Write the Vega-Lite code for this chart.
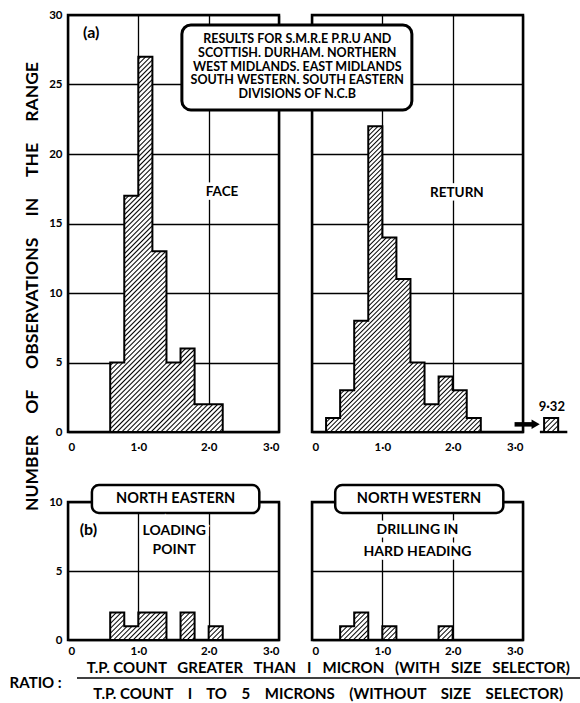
{
"$schema":"https://vega.github.io/schema/vega-lite/v6.json",
"padding":{"left":8,"top":7,"right":2,"bottom":2},
"background":"white",
"config":{
"font":"Lato",
"view":{"stroke":"black","strokeWidth":2.5},
"axis":{"grid":true,"gridColor":"black","gridWidth":1.3,"gridOpacity":1,"domain":false,"ticks":false,"labelFont":"Lato","labelFontWeight":"bold","labelFontSize":11.5,"labelColor":"black"},
"text":{"font":"Lato","fontWeight":"bold","color":"black"}
},
"datasets":{
"face":[{"ratio_from":0.6,"observations":5},{"ratio_from":0.8,"observations":17},{"ratio_from":1.0,"observations":27},{"ratio_from":1.2,"observations":13},{"ratio_from":1.4,"observations":5},{"ratio_from":1.6,"observations":6},{"ratio_from":1.8,"observations":2},{"ratio_from":2.0,"observations":2},{"ratio_from":2.2,"observations":0}],
"return":[{"ratio_from":0.2,"observations":1},{"ratio_from":0.4,"observations":3},{"ratio_from":0.6,"observations":8},{"ratio_from":0.8,"observations":22},{"ratio_from":1.0,"observations":14},{"ratio_from":1.2,"observations":11},{"ratio_from":1.4,"observations":5},{"ratio_from":1.6,"observations":2},{"ratio_from":1.8,"observations":4},{"ratio_from":2.0,"observations":3},{"ratio_from":2.2,"observations":1},{"ratio_from":2.4,"observations":0}],
"ne":[{"ratio_from":0.6,"observations":2},{"ratio_from":0.8,"observations":1},{"ratio_from":1.0,"observations":2},{"ratio_from":1.2,"observations":2},{"ratio_from":1.4,"observations":0},{"ratio_from":1.6,"observations":2},{"ratio_from":1.8,"observations":0},{"ratio_from":2.0,"observations":1},{"ratio_from":2.2,"observations":0}],
"nw":[{"ratio_from":0.4,"observations":1},{"ratio_from":0.6,"observations":2},{"ratio_from":0.8,"observations":0},{"ratio_from":1.0,"observations":1},{"ratio_from":1.2,"observations":0},{"ratio_from":1.4,"observations":0},{"ratio_from":1.6,"observations":0},{"ratio_from":1.8,"observations":1},{"ratio_from":2.0,"observations":0}]
},
"bounds":"flush",
"align":"each",
"columns":2,
"spacing":{"row":70,"column":33},
"concat":[
{"width":211,"height":417,"layer":[
{"data":{"name":"face"},
"mark":{"type":"area","interpolate":"step-after","opacity":1,"stroke":"black","strokeWidth":2,"strokeJoin":"miter",
"fill":{"gradient":"linear","x1":0,"y1":0,"x2":0.3576,"y2":1.1926,"stops":[{"offset":0,"color":"#fff"},{"offset":0.003,"color":"#000"},{"offset":0.006,"color":"#fff"},{"offset":0.01,"color":"#fff"},{"offset":0.013,"color":"#000"},{"offset":0.016,"color":"#fff"},{"offset":0.02,"color":"#fff"},{"offset":0.023,"color":"#000"},{"offset":0.026,"color":"#fff"},{"offset":0.03,"color":"#fff"},{"offset":0.033,"color":"#000"},{"offset":0.036,"color":"#fff"},{"offset":0.04,"color":"#fff"},{"offset":0.043,"color":"#000"},{"offset":0.046,"color":"#fff"},{"offset":0.05,"color":"#fff"},{"offset":0.053,"color":"#000"},{"offset":0.056,"color":"#fff"},{"offset":0.06,"color":"#fff"},{"offset":0.063,"color":"#000"},{"offset":0.066,"color":"#fff"},{"offset":0.07,"color":"#fff"},{"offset":0.073,"color":"#000"},{"offset":0.076,"color":"#fff"},{"offset":0.08,"color":"#fff"},{"offset":0.083,"color":"#000"},{"offset":0.086,"color":"#fff"},{"offset":0.09,"color":"#fff"},{"offset":0.093,"color":"#000"},{"offset":0.096,"color":"#fff"},{"offset":0.1,"color":"#fff"},{"offset":0.103,"color":"#000"},{"offset":0.106,"color":"#fff"},{"offset":0.11,"color":"#fff"},{"offset":0.113,"color":"#000"},{"offset":0.116,"color":"#fff"},{"offset":0.12,"color":"#fff"},{"offset":0.123,"color":"#000"},{"offset":0.126,"color":"#fff"},{"offset":0.13,"color":"#fff"},{"offset":0.133,"color":"#000"},{"offset":0.136,"color":"#fff"},{"offset":0.14,"color":"#fff"},{"offset":0.143,"color":"#000"},{"offset":0.146,"color":"#fff"},{"offset":0.15,"color":"#fff"},{"offset":0.153,"color":"#000"},{"offset":0.156,"color":"#fff"},{"offset":0.16,"color":"#fff"},{"offset":0.163,"color":"#000"},{"offset":0.166,"color":"#fff"},{"offset":0.17,"color":"#fff"},{"offset":0.173,"color":"#000"},{"offset":0.176,"color":"#fff"},{"offset":0.18,"color":"#fff"},{"offset":0.183,"color":"#000"},{"offset":0.186,"color":"#fff"},{"offset":0.19,"color":"#fff"},{"offset":0.193,"color":"#000"},{"offset":0.196,"color":"#fff"},{"offset":0.2,"color":"#fff"},{"offset":0.203,"color":"#000"},{"offset":0.206,"color":"#fff"},{"offset":0.21,"color":"#fff"},{"offset":0.213,"color":"#000"},{"offset":0.216,"color":"#fff"},{"offset":0.22,"color":"#fff"},{"offset":0.223,"color":"#000"},{"offset":0.226,"color":"#fff"},{"offset":0.23,"color":"#fff"},{"offset":0.233,"color":"#000"},{"offset":0.236,"color":"#fff"},{"offset":0.24,"color":"#fff"},{"offset":0.243,"color":"#000"},{"offset":0.246,"color":"#fff"},{"offset":0.25,"color":"#fff"},{"offset":0.253,"color":"#000"},{"offset":0.256,"color":"#fff"},{"offset":0.26,"color":"#fff"},{"offset":0.263,"color":"#000"},{"offset":0.266,"color":"#fff"},{"offset":0.27,"color":"#fff"},{"offset":0.273,"color":"#000"},{"offset":0.276,"color":"#fff"},{"offset":0.28,"color":"#fff"},{"offset":0.283,"color":"#000"},{"offset":0.286,"color":"#fff"},{"offset":0.29,"color":"#fff"},{"offset":0.293,"color":"#000"},{"offset":0.296,"color":"#fff"},{"offset":0.3,"color":"#fff"},{"offset":0.303,"color":"#000"},{"offset":0.306,"color":"#fff"},{"offset":0.31,"color":"#fff"},{"offset":0.313,"color":"#000"},{"offset":0.316,"color":"#fff"},{"offset":0.32,"color":"#fff"},{"offset":0.323,"color":"#000"},{"offset":0.326,"color":"#fff"},{"offset":0.33,"color":"#fff"},{"offset":0.333,"color":"#000"},{"offset":0.336,"color":"#fff"},{"offset":0.34,"color":"#fff"},{"offset":0.343,"color":"#000"},{"offset":0.346,"color":"#fff"},{"offset":0.35,"color":"#fff"},{"offset":0.353,"color":"#000"},{"offset":0.356,"color":"#fff"},{"offset":0.36,"color":"#fff"},{"offset":0.363,"color":"#000"},{"offset":0.366,"color":"#fff"},{"offset":0.37,"color":"#fff"},{"offset":0.373,"color":"#000"},{"offset":0.376,"color":"#fff"},{"offset":0.38,"color":"#fff"},{"offset":0.383,"color":"#000"},{"offset":0.386,"color":"#fff"},{"offset":0.39,"color":"#fff"},{"offset":0.393,"color":"#000"},{"offset":0.396,"color":"#fff"},{"offset":0.4,"color":"#fff"},{"offset":0.403,"color":"#000"},{"offset":0.406,"color":"#fff"},{"offset":0.41,"color":"#fff"},{"offset":0.413,"color":"#000"},{"offset":0.416,"color":"#fff"},{"offset":0.42,"color":"#fff"},{"offset":0.423,"color":"#000"},{"offset":0.426,"color":"#fff"},{"offset":0.43,"color":"#fff"},{"offset":0.433,"color":"#000"},{"offset":0.436,"color":"#fff"},{"offset":0.44,"color":"#fff"},{"offset":0.443,"color":"#000"},{"offset":0.446,"color":"#fff"},{"offset":0.45,"color":"#fff"},{"offset":0.453,"color":"#000"},{"offset":0.456,"color":"#fff"},{"offset":0.46,"color":"#fff"},{"offset":0.463,"color":"#000"},{"offset":0.466,"color":"#fff"},{"offset":0.47,"color":"#fff"},{"offset":0.473,"color":"#000"},{"offset":0.476,"color":"#fff"},{"offset":0.48,"color":"#fff"},{"offset":0.483,"color":"#000"},{"offset":0.486,"color":"#fff"},{"offset":0.49,"color":"#fff"},{"offset":0.493,"color":"#000"},{"offset":0.496,"color":"#fff"},{"offset":0.5,"color":"#fff"},{"offset":0.503,"color":"#000"},{"offset":0.506,"color":"#fff"},{"offset":0.51,"color":"#fff"},{"offset":0.513,"color":"#000"},{"offset":0.516,"color":"#fff"},{"offset":0.52,"color":"#fff"},{"offset":0.523,"color":"#000"},{"offset":0.526,"color":"#fff"},{"offset":0.53,"color":"#fff"},{"offset":0.533,"color":"#000"},{"offset":0.536,"color":"#fff"},{"offset":0.54,"color":"#fff"},{"offset":0.543,"color":"#000"},{"offset":0.546,"color":"#fff"},{"offset":0.55,"color":"#fff"},{"offset":0.553,"color":"#000"},{"offset":0.556,"color":"#fff"},{"offset":0.56,"color":"#fff"},{"offset":0.563,"color":"#000"},{"offset":0.566,"color":"#fff"},{"offset":0.57,"color":"#fff"},{"offset":0.573,"color":"#000"},{"offset":0.576,"color":"#fff"},{"offset":0.58,"color":"#fff"},{"offset":0.583,"color":"#000"},{"offset":0.586,"color":"#fff"},{"offset":0.59,"color":"#fff"},{"offset":0.593,"color":"#000"},{"offset":0.596,"color":"#fff"},{"offset":0.6,"color":"#fff"},{"offset":0.603,"color":"#000"},{"offset":0.606,"color":"#fff"},{"offset":0.61,"color":"#fff"},{"offset":0.613,"color":"#000"},{"offset":0.616,"color":"#fff"},{"offset":0.62,"color":"#fff"},{"offset":0.623,"color":"#000"},{"offset":0.626,"color":"#fff"},{"offset":0.63,"color":"#fff"},{"offset":0.633,"color":"#000"},{"offset":0.636,"color":"#fff"},{"offset":0.64,"color":"#fff"},{"offset":0.643,"color":"#000"},{"offset":0.646,"color":"#fff"},{"offset":0.65,"color":"#fff"},{"offset":0.653,"color":"#000"},{"offset":0.656,"color":"#fff"},{"offset":0.66,"color":"#fff"},{"offset":0.663,"color":"#000"},{"offset":0.666,"color":"#fff"},{"offset":0.67,"color":"#fff"},{"offset":0.673,"color":"#000"},{"offset":0.676,"color":"#fff"},{"offset":0.68,"color":"#fff"},{"offset":0.683,"color":"#000"},{"offset":0.686,"color":"#fff"},{"offset":0.69,"color":"#fff"},{"offset":0.693,"color":"#000"},{"offset":0.696,"color":"#fff"},{"offset":0.7,"color":"#fff"},{"offset":0.703,"color":"#000"},{"offset":0.706,"color":"#fff"},{"offset":0.71,"color":"#fff"},{"offset":0.713,"color":"#000"},{"offset":0.716,"color":"#fff"},{"offset":0.72,"color":"#fff"},{"offset":0.723,"color":"#000"},{"offset":0.726,"color":"#fff"},{"offset":0.73,"color":"#fff"},{"offset":0.733,"color":"#000"},{"offset":0.736,"color":"#fff"},{"offset":0.74,"color":"#fff"},{"offset":0.743,"color":"#000"},{"offset":0.746,"color":"#fff"},{"offset":0.75,"color":"#fff"},{"offset":0.753,"color":"#000"},{"offset":0.756,"color":"#fff"},{"offset":0.76,"color":"#fff"},{"offset":0.763,"color":"#000"},{"offset":0.766,"color":"#fff"},{"offset":0.77,"color":"#fff"},{"offset":0.773,"color":"#000"},{"offset":0.776,"color":"#fff"},{"offset":0.78,"color":"#fff"},{"offset":0.783,"color":"#000"},{"offset":0.786,"color":"#fff"},{"offset":0.79,"color":"#fff"},{"offset":0.793,"color":"#000"},{"offset":0.796,"color":"#fff"},{"offset":0.8,"color":"#fff"},{"offset":0.803,"color":"#000"},{"offset":0.806,"color":"#fff"},{"offset":0.81,"color":"#fff"},{"offset":0.813,"color":"#000"},{"offset":0.816,"color":"#fff"},{"offset":0.82,"color":"#fff"},{"offset":0.823,"color":"#000"},{"offset":0.826,"color":"#fff"},{"offset":0.83,"color":"#fff"},{"offset":0.833,"color":"#000"},{"offset":0.836,"color":"#fff"},{"offset":0.84,"color":"#fff"},{"offset":0.843,"color":"#000"},{"offset":0.846,"color":"#fff"},{"offset":0.85,"color":"#fff"},{"offset":0.853,"color":"#000"},{"offset":0.856,"color":"#fff"},{"offset":0.86,"color":"#fff"},{"offset":0.863,"color":"#000"},{"offset":0.866,"color":"#fff"},{"offset":0.87,"color":"#fff"},{"offset":0.873,"color":"#000"},{"offset":0.876,"color":"#fff"},{"offset":0.88,"color":"#fff"},{"offset":0.883,"color":"#000"},{"offset":0.886,"color":"#fff"},{"offset":0.89,"color":"#fff"},{"offset":0.893,"color":"#000"},{"offset":0.896,"color":"#fff"},{"offset":0.9,"color":"#fff"},{"offset":0.903,"color":"#000"},{"offset":0.906,"color":"#fff"},{"offset":0.91,"color":"#fff"},{"offset":0.913,"color":"#000"},{"offset":0.916,"color":"#fff"},{"offset":0.92,"color":"#fff"},{"offset":0.923,"color":"#000"},{"offset":0.926,"color":"#fff"},{"offset":0.93,"color":"#fff"},{"offset":0.933,"color":"#000"},{"offset":0.936,"color":"#fff"},{"offset":0.94,"color":"#fff"},{"offset":0.943,"color":"#000"},{"offset":0.946,"color":"#fff"},{"offset":0.95,"color":"#fff"},{"offset":0.953,"color":"#000"},{"offset":0.956,"color":"#fff"},{"offset":0.96,"color":"#fff"},{"offset":0.963,"color":"#000"},{"offset":0.966,"color":"#fff"},{"offset":0.97,"color":"#fff"},{"offset":0.973,"color":"#000"},{"offset":0.976,"color":"#fff"},{"offset":0.98,"color":"#fff"},{"offset":0.983,"color":"#000"},{"offset":0.986,"color":"#fff"},{"offset":0.99,"color":"#fff"},{"offset":0.993,"color":"#000"},{"offset":0.996,"color":"#fff"}]}},
"encoding":{
"x":{"field":"ratio_from","type":"quantitative","scale":{"domain":[0,3],"nice":false},"axis":{"values":[0,1,2,3],"labelPadding":9,"labelExpr":"datum.value == 0 ? '0' : replace(format(datum.value, '.1f'), '.', '·')","title":null}},
"y":{"field":"observations","type":"quantitative","stack":null,"scale":{"domain":[0,30],"nice":false},"axis":{"values":[0,5,10,15,20,25,30],"labelPadding":6,"title":"NUMBER\u00a0\u00a0\u00a0\u00a0 OF\u00a0\u00a0\u00a0\u00a0 OBSERVATIONS\u00a0\u00a0\u00a0\u00a0 IN\u00a0\u00a0\u00a0\u00a0 THE\u00a0\u00a0\u00a0\u00a0 RANGE","titleFont":"Lato","titleFontWeight":"bold","titleFontSize":17.5,"titleColor":"black","titleAngle":270,"titleX":-36,"titleY":271,"titleAlign":"center","titleBaseline":"middle"}}
}},
{"data":{"values":[{}]},"mark":{"type":"text","text":"FACE","fontSize":13.5,"stroke":"white","strokeWidth":7,"fill":"white"},"encoding":{"x":{"datum":2.19,"type":"quantitative"},"y":{"datum":17.3,"type":"quantitative"}}},
{"data":{"values":[{}]},"mark":{"type":"text","text":"FACE","fontSize":13.5},"encoding":{"x":{"datum":2.19,"type":"quantitative"},"y":{"datum":17.3,"type":"quantitative"}}},
{"data":{"values":[{}]},"mark":{"type":"text","text":"(a)","fontSize":16},"encoding":{"x":{"datum":0.33,"type":"quantitative"},"y":{"datum":28.7,"type":"quantitative"}}}
]},
{"width":211,"height":417,"layer":[
{"data":{"name":"return"},
"mark":{"type":"area","interpolate":"step-after","opacity":1,"stroke":"black","strokeWidth":2,"strokeJoin":"miter",
"fill":{"gradient":"linear","x1":0,"y1":0,"x2":0.6067,"y2":1.199,"stops":[{"offset":0,"color":"#fff"},{"offset":0.003,"color":"#000"},{"offset":0.006,"color":"#fff"},{"offset":0.01,"color":"#fff"},{"offset":0.013,"color":"#000"},{"offset":0.016,"color":"#fff"},{"offset":0.02,"color":"#fff"},{"offset":0.023,"color":"#000"},{"offset":0.026,"color":"#fff"},{"offset":0.03,"color":"#fff"},{"offset":0.033,"color":"#000"},{"offset":0.036,"color":"#fff"},{"offset":0.04,"color":"#fff"},{"offset":0.043,"color":"#000"},{"offset":0.046,"color":"#fff"},{"offset":0.05,"color":"#fff"},{"offset":0.053,"color":"#000"},{"offset":0.056,"color":"#fff"},{"offset":0.06,"color":"#fff"},{"offset":0.063,"color":"#000"},{"offset":0.066,"color":"#fff"},{"offset":0.07,"color":"#fff"},{"offset":0.073,"color":"#000"},{"offset":0.076,"color":"#fff"},{"offset":0.08,"color":"#fff"},{"offset":0.083,"color":"#000"},{"offset":0.086,"color":"#fff"},{"offset":0.09,"color":"#fff"},{"offset":0.093,"color":"#000"},{"offset":0.096,"color":"#fff"},{"offset":0.1,"color":"#fff"},{"offset":0.103,"color":"#000"},{"offset":0.106,"color":"#fff"},{"offset":0.11,"color":"#fff"},{"offset":0.113,"color":"#000"},{"offset":0.116,"color":"#fff"},{"offset":0.12,"color":"#fff"},{"offset":0.123,"color":"#000"},{"offset":0.126,"color":"#fff"},{"offset":0.13,"color":"#fff"},{"offset":0.133,"color":"#000"},{"offset":0.136,"color":"#fff"},{"offset":0.14,"color":"#fff"},{"offset":0.143,"color":"#000"},{"offset":0.146,"color":"#fff"},{"offset":0.15,"color":"#fff"},{"offset":0.153,"color":"#000"},{"offset":0.156,"color":"#fff"},{"offset":0.16,"color":"#fff"},{"offset":0.163,"color":"#000"},{"offset":0.166,"color":"#fff"},{"offset":0.17,"color":"#fff"},{"offset":0.173,"color":"#000"},{"offset":0.176,"color":"#fff"},{"offset":0.18,"color":"#fff"},{"offset":0.183,"color":"#000"},{"offset":0.186,"color":"#fff"},{"offset":0.19,"color":"#fff"},{"offset":0.193,"color":"#000"},{"offset":0.196,"color":"#fff"},{"offset":0.2,"color":"#fff"},{"offset":0.203,"color":"#000"},{"offset":0.206,"color":"#fff"},{"offset":0.21,"color":"#fff"},{"offset":0.213,"color":"#000"},{"offset":0.216,"color":"#fff"},{"offset":0.22,"color":"#fff"},{"offset":0.223,"color":"#000"},{"offset":0.226,"color":"#fff"},{"offset":0.23,"color":"#fff"},{"offset":0.233,"color":"#000"},{"offset":0.236,"color":"#fff"},{"offset":0.24,"color":"#fff"},{"offset":0.243,"color":"#000"},{"offset":0.246,"color":"#fff"},{"offset":0.25,"color":"#fff"},{"offset":0.253,"color":"#000"},{"offset":0.256,"color":"#fff"},{"offset":0.26,"color":"#fff"},{"offset":0.263,"color":"#000"},{"offset":0.266,"color":"#fff"},{"offset":0.27,"color":"#fff"},{"offset":0.273,"color":"#000"},{"offset":0.276,"color":"#fff"},{"offset":0.28,"color":"#fff"},{"offset":0.283,"color":"#000"},{"offset":0.286,"color":"#fff"},{"offset":0.29,"color":"#fff"},{"offset":0.293,"color":"#000"},{"offset":0.296,"color":"#fff"},{"offset":0.3,"color":"#fff"},{"offset":0.303,"color":"#000"},{"offset":0.306,"color":"#fff"},{"offset":0.31,"color":"#fff"},{"offset":0.313,"color":"#000"},{"offset":0.316,"color":"#fff"},{"offset":0.32,"color":"#fff"},{"offset":0.323,"color":"#000"},{"offset":0.326,"color":"#fff"},{"offset":0.33,"color":"#fff"},{"offset":0.333,"color":"#000"},{"offset":0.336,"color":"#fff"},{"offset":0.34,"color":"#fff"},{"offset":0.343,"color":"#000"},{"offset":0.346,"color":"#fff"},{"offset":0.35,"color":"#fff"},{"offset":0.353,"color":"#000"},{"offset":0.356,"color":"#fff"},{"offset":0.36,"color":"#fff"},{"offset":0.363,"color":"#000"},{"offset":0.366,"color":"#fff"},{"offset":0.37,"color":"#fff"},{"offset":0.373,"color":"#000"},{"offset":0.376,"color":"#fff"},{"offset":0.38,"color":"#fff"},{"offset":0.383,"color":"#000"},{"offset":0.386,"color":"#fff"},{"offset":0.39,"color":"#fff"},{"offset":0.393,"color":"#000"},{"offset":0.396,"color":"#fff"},{"offset":0.4,"color":"#fff"},{"offset":0.403,"color":"#000"},{"offset":0.406,"color":"#fff"},{"offset":0.41,"color":"#fff"},{"offset":0.413,"color":"#000"},{"offset":0.416,"color":"#fff"},{"offset":0.42,"color":"#fff"},{"offset":0.423,"color":"#000"},{"offset":0.426,"color":"#fff"},{"offset":0.43,"color":"#fff"},{"offset":0.433,"color":"#000"},{"offset":0.436,"color":"#fff"},{"offset":0.44,"color":"#fff"},{"offset":0.443,"color":"#000"},{"offset":0.446,"color":"#fff"},{"offset":0.45,"color":"#fff"},{"offset":0.453,"color":"#000"},{"offset":0.456,"color":"#fff"},{"offset":0.46,"color":"#fff"},{"offset":0.463,"color":"#000"},{"offset":0.466,"color":"#fff"},{"offset":0.47,"color":"#fff"},{"offset":0.473,"color":"#000"},{"offset":0.476,"color":"#fff"},{"offset":0.48,"color":"#fff"},{"offset":0.483,"color":"#000"},{"offset":0.486,"color":"#fff"},{"offset":0.49,"color":"#fff"},{"offset":0.493,"color":"#000"},{"offset":0.496,"color":"#fff"},{"offset":0.5,"color":"#fff"},{"offset":0.503,"color":"#000"},{"offset":0.506,"color":"#fff"},{"offset":0.51,"color":"#fff"},{"offset":0.513,"color":"#000"},{"offset":0.516,"color":"#fff"},{"offset":0.52,"color":"#fff"},{"offset":0.523,"color":"#000"},{"offset":0.526,"color":"#fff"},{"offset":0.53,"color":"#fff"},{"offset":0.533,"color":"#000"},{"offset":0.536,"color":"#fff"},{"offset":0.54,"color":"#fff"},{"offset":0.543,"color":"#000"},{"offset":0.546,"color":"#fff"},{"offset":0.55,"color":"#fff"},{"offset":0.553,"color":"#000"},{"offset":0.556,"color":"#fff"},{"offset":0.56,"color":"#fff"},{"offset":0.563,"color":"#000"},{"offset":0.566,"color":"#fff"},{"offset":0.57,"color":"#fff"},{"offset":0.573,"color":"#000"},{"offset":0.576,"color":"#fff"},{"offset":0.58,"color":"#fff"},{"offset":0.583,"color":"#000"},{"offset":0.586,"color":"#fff"},{"offset":0.59,"color":"#fff"},{"offset":0.593,"color":"#000"},{"offset":0.596,"color":"#fff"},{"offset":0.6,"color":"#fff"},{"offset":0.603,"color":"#000"},{"offset":0.606,"color":"#fff"},{"offset":0.61,"color":"#fff"},{"offset":0.613,"color":"#000"},{"offset":0.616,"color":"#fff"},{"offset":0.62,"color":"#fff"},{"offset":0.623,"color":"#000"},{"offset":0.626,"color":"#fff"},{"offset":0.63,"color":"#fff"},{"offset":0.633,"color":"#000"},{"offset":0.636,"color":"#fff"},{"offset":0.64,"color":"#fff"},{"offset":0.643,"color":"#000"},{"offset":0.646,"color":"#fff"},{"offset":0.65,"color":"#fff"},{"offset":0.653,"color":"#000"},{"offset":0.656,"color":"#fff"},{"offset":0.66,"color":"#fff"},{"offset":0.663,"color":"#000"},{"offset":0.666,"color":"#fff"},{"offset":0.67,"color":"#fff"},{"offset":0.673,"color":"#000"},{"offset":0.676,"color":"#fff"},{"offset":0.68,"color":"#fff"},{"offset":0.683,"color":"#000"},{"offset":0.686,"color":"#fff"},{"offset":0.69,"color":"#fff"},{"offset":0.693,"color":"#000"},{"offset":0.696,"color":"#fff"},{"offset":0.7,"color":"#fff"},{"offset":0.703,"color":"#000"},{"offset":0.706,"color":"#fff"},{"offset":0.71,"color":"#fff"},{"offset":0.713,"color":"#000"},{"offset":0.716,"color":"#fff"},{"offset":0.72,"color":"#fff"},{"offset":0.723,"color":"#000"},{"offset":0.726,"color":"#fff"},{"offset":0.73,"color":"#fff"},{"offset":0.733,"color":"#000"},{"offset":0.736,"color":"#fff"},{"offset":0.74,"color":"#fff"},{"offset":0.743,"color":"#000"},{"offset":0.746,"color":"#fff"},{"offset":0.75,"color":"#fff"},{"offset":0.753,"color":"#000"},{"offset":0.756,"color":"#fff"},{"offset":0.76,"color":"#fff"},{"offset":0.763,"color":"#000"},{"offset":0.766,"color":"#fff"},{"offset":0.77,"color":"#fff"},{"offset":0.773,"color":"#000"},{"offset":0.776,"color":"#fff"},{"offset":0.78,"color":"#fff"},{"offset":0.783,"color":"#000"},{"offset":0.786,"color":"#fff"},{"offset":0.79,"color":"#fff"},{"offset":0.793,"color":"#000"},{"offset":0.796,"color":"#fff"},{"offset":0.8,"color":"#fff"},{"offset":0.803,"color":"#000"},{"offset":0.806,"color":"#fff"},{"offset":0.81,"color":"#fff"},{"offset":0.813,"color":"#000"},{"offset":0.816,"color":"#fff"},{"offset":0.82,"color":"#fff"},{"offset":0.823,"color":"#000"},{"offset":0.826,"color":"#fff"},{"offset":0.83,"color":"#fff"},{"offset":0.833,"color":"#000"},{"offset":0.836,"color":"#fff"},{"offset":0.84,"color":"#fff"},{"offset":0.843,"color":"#000"},{"offset":0.846,"color":"#fff"},{"offset":0.85,"color":"#fff"},{"offset":0.853,"color":"#000"},{"offset":0.856,"color":"#fff"},{"offset":0.86,"color":"#fff"},{"offset":0.863,"color":"#000"},{"offset":0.866,"color":"#fff"},{"offset":0.87,"color":"#fff"},{"offset":0.873,"color":"#000"},{"offset":0.876,"color":"#fff"},{"offset":0.88,"color":"#fff"},{"offset":0.883,"color":"#000"},{"offset":0.886,"color":"#fff"},{"offset":0.89,"color":"#fff"},{"offset":0.893,"color":"#000"},{"offset":0.896,"color":"#fff"},{"offset":0.9,"color":"#fff"},{"offset":0.903,"color":"#000"},{"offset":0.906,"color":"#fff"},{"offset":0.91,"color":"#fff"},{"offset":0.913,"color":"#000"},{"offset":0.916,"color":"#fff"},{"offset":0.92,"color":"#fff"},{"offset":0.923,"color":"#000"},{"offset":0.926,"color":"#fff"},{"offset":0.93,"color":"#fff"},{"offset":0.933,"color":"#000"},{"offset":0.936,"color":"#fff"},{"offset":0.94,"color":"#fff"},{"offset":0.943,"color":"#000"},{"offset":0.946,"color":"#fff"},{"offset":0.95,"color":"#fff"},{"offset":0.953,"color":"#000"},{"offset":0.956,"color":"#fff"},{"offset":0.96,"color":"#fff"},{"offset":0.963,"color":"#000"},{"offset":0.966,"color":"#fff"},{"offset":0.97,"color":"#fff"},{"offset":0.973,"color":"#000"},{"offset":0.976,"color":"#fff"},{"offset":0.98,"color":"#fff"},{"offset":0.983,"color":"#000"},{"offset":0.986,"color":"#fff"},{"offset":0.99,"color":"#fff"},{"offset":0.993,"color":"#000"},{"offset":0.996,"color":"#fff"}]}},
"encoding":{
"x":{"field":"ratio_from","type":"quantitative","scale":{"domain":[0,3],"nice":false},"axis":{"values":[0,1,2,3],"labelPadding":9,"labelExpr":"datum.value == 0 ? '0' : replace(format(datum.value, '.1f'), '.', '·')","title":null}},
"y":{"field":"observations","type":"quantitative","stack":null,"scale":{"domain":[0,30],"nice":false},"axis":{"values":[0,5,10,15,20,25,30],"labels":false,"title":null}}
}},
{"data":{"values":[{}]},"mark":{"type":"rule","strokeWidth":2.5,"color":"black"},"encoding":{"x":{"datum":3.24,"type":"quantitative"},"x2":{"datum":3.63},"y":{"datum":0,"type":"quantitative"}}},
{"data":{"values":[{}]},"mark":{"type":"rect","stroke":"black","strokeWidth":2,"fill":{"gradient":"linear","x1":0,"y1":0,"x2":1.006,"y2":0.994,"stops":[{"offset":0,"color":"#fff"},{"offset":0.05,"color":"#000"},{"offset":0.1,"color":"#fff"},{"offset":0.18,"color":"#fff"},{"offset":0.23,"color":"#000"},{"offset":0.28,"color":"#fff"},{"offset":0.36,"color":"#fff"},{"offset":0.41,"color":"#000"},{"offset":0.46,"color":"#fff"},{"offset":0.54,"color":"#fff"},{"offset":0.59,"color":"#000"},{"offset":0.64,"color":"#fff"},{"offset":0.72,"color":"#fff"},{"offset":0.77,"color":"#000"},{"offset":0.82,"color":"#fff"},{"offset":0.9,"color":"#fff"},{"offset":0.95,"color":"#000"},{"offset":1,"color":"#fff"}]}},"encoding":{"x":{"datum":3.3,"type":"quantitative"},"x2":{"datum":3.5},"y":{"datum":0,"type":"quantitative"},"y2":{"datum":1}}},
{"data":{"values":[{}]},"mark":{"type":"rule","strokeWidth":4.5,"color":"black"},"encoding":{"x":{"datum":2.88,"type":"quantitative"},"x2":{"datum":3.13},"y":{"datum":0.55,"type":"quantitative"}}},
{"data":{"values":[{}]},"mark":{"type":"point","shape":"triangle-right","size":90,"filled":true,"color":"black","opacity":1},"encoding":{"x":{"datum":3.18,"type":"quantitative"},"y":{"datum":0.55,"type":"quantitative"}}},
{"data":{"values":[{}]},"mark":{"type":"text","text":"9·32","fontSize":13},"encoding":{"x":{"datum":3.41,"type":"quantitative"},"y":{"datum":1.8,"type":"quantitative"}}},
{"data":{"values":[{}]},"mark":{"type":"text","text":"RETURN","fontSize":13.5,"stroke":"white","strokeWidth":7,"fill":"white"},"encoding":{"x":{"datum":2.06,"type":"quantitative"},"y":{"datum":17.2,"type":"quantitative"}}},
{"data":{"values":[{}]},"mark":{"type":"text","text":"RETURN","fontSize":13.5},"encoding":{"x":{"datum":2.06,"type":"quantitative"},"y":{"datum":17.2,"type":"quantitative"}}},
{"data":{"values":[{}]},"mark":{"type":"rect","fill":"white","stroke":"black","strokeWidth":3,"cornerRadius":9},"encoding":{"x":{"datum":-1.85,"type":"quantitative"},"x2":{"datum":1.42},"y":{"datum":29.28,"type":"quantitative"},"y2":{"datum":23.17}}},
{"data":{"values":[{}]},"mark":{"type":"text","text":["RESULTS FOR S.M.R.E P.R.U AND","SCOTTISH. DURHAM. NORTHERN","WEST MIDLANDS. EAST MIDLANDS","SOUTH WESTERN. SOUTH EASTERN","DIVISIONS OF N.C.B"],"fontSize":12.5,"lineHeight":13.8},"encoding":{"x":{"datum":-0.21,"type":"quantitative"},"y":{"datum":28.27,"type":"quantitative"}}}
]},
{"width":211,"height":138,"layer":[
{"data":{"name":"ne"},
"mark":{"type":"area","interpolate":"step-after","opacity":1,"stroke":"black","strokeWidth":2,"strokeJoin":"miter",
"fill":{"gradient":"linear","x1":0,"y1":0,"x2":1.1746,"y2":0.2881,"stops":[{"offset":0,"color":"#fff"},{"offset":0.01,"color":"#000"},{"offset":0.02,"color":"#fff"},{"offset":0.035,"color":"#fff"},{"offset":0.045,"color":"#000"},{"offset":0.055,"color":"#fff"},{"offset":0.07,"color":"#fff"},{"offset":0.08,"color":"#000"},{"offset":0.09,"color":"#fff"},{"offset":0.105,"color":"#fff"},{"offset":0.115,"color":"#000"},{"offset":0.125,"color":"#fff"},{"offset":0.14,"color":"#fff"},{"offset":0.15,"color":"#000"},{"offset":0.16,"color":"#fff"},{"offset":0.175,"color":"#fff"},{"offset":0.185,"color":"#000"},{"offset":0.195,"color":"#fff"},{"offset":0.21,"color":"#fff"},{"offset":0.22,"color":"#000"},{"offset":0.23,"color":"#fff"},{"offset":0.245,"color":"#fff"},{"offset":0.255,"color":"#000"},{"offset":0.265,"color":"#fff"},{"offset":0.28,"color":"#fff"},{"offset":0.29,"color":"#000"},{"offset":0.3,"color":"#fff"},{"offset":0.315,"color":"#fff"},{"offset":0.325,"color":"#000"},{"offset":0.335,"color":"#fff"},{"offset":0.35,"color":"#fff"},{"offset":0.36,"color":"#000"},{"offset":0.37,"color":"#fff"},{"offset":0.385,"color":"#fff"},{"offset":0.395,"color":"#000"},{"offset":0.405,"color":"#fff"},{"offset":0.42,"color":"#fff"},{"offset":0.43,"color":"#000"},{"offset":0.44,"color":"#fff"},{"offset":0.455,"color":"#fff"},{"offset":0.465,"color":"#000"},{"offset":0.475,"color":"#fff"},{"offset":0.49,"color":"#fff"},{"offset":0.5,"color":"#000"},{"offset":0.51,"color":"#fff"},{"offset":0.525,"color":"#fff"},{"offset":0.535,"color":"#000"},{"offset":0.545,"color":"#fff"},{"offset":0.56,"color":"#fff"},{"offset":0.57,"color":"#000"},{"offset":0.58,"color":"#fff"},{"offset":0.595,"color":"#fff"},{"offset":0.605,"color":"#000"},{"offset":0.615,"color":"#fff"},{"offset":0.63,"color":"#fff"},{"offset":0.64,"color":"#000"},{"offset":0.65,"color":"#fff"},{"offset":0.665,"color":"#fff"},{"offset":0.675,"color":"#000"},{"offset":0.685,"color":"#fff"},{"offset":0.7,"color":"#fff"},{"offset":0.71,"color":"#000"},{"offset":0.72,"color":"#fff"},{"offset":0.735,"color":"#fff"},{"offset":0.745,"color":"#000"},{"offset":0.755,"color":"#fff"},{"offset":0.77,"color":"#fff"},{"offset":0.78,"color":"#000"},{"offset":0.79,"color":"#fff"},{"offset":0.805,"color":"#fff"},{"offset":0.815,"color":"#000"},{"offset":0.825,"color":"#fff"},{"offset":0.84,"color":"#fff"},{"offset":0.85,"color":"#000"},{"offset":0.86,"color":"#fff"},{"offset":0.875,"color":"#fff"},{"offset":0.885,"color":"#000"},{"offset":0.895,"color":"#fff"},{"offset":0.91,"color":"#fff"},{"offset":0.92,"color":"#000"},{"offset":0.93,"color":"#fff"},{"offset":0.945,"color":"#fff"},{"offset":0.955,"color":"#000"},{"offset":0.965,"color":"#fff"},{"offset":0.98,"color":"#fff"},{"offset":0.99,"color":"#000"},{"offset":1,"color":"#fff"}]}},
"encoding":{
"x":{"field":"ratio_from","type":"quantitative","scale":{"domain":[0,3],"nice":false},"axis":{"values":[0,1,2,3],"labelPadding":5,"labelExpr":"datum.value == 0 ? '0' : replace(format(datum.value, '.1f'), '.', '·')","title":null}},
"y":{"field":"observations","type":"quantitative","stack":null,"scale":{"domain":[0,10],"nice":false},"axis":{"values":[0,5,10],"labelPadding":6,"title":null}}
}},
{"data":{"values":[{}]},"mark":{"type":"rect","fill":"white","stroke":"black","strokeWidth":2.5,"cornerRadius":7},"encoding":{"x":{"datum":0.34,"type":"quantitative"},"x2":{"datum":2.72},"y":{"datum":11.23,"type":"quantitative"},"y2":{"datum":9.2}}},
{"data":{"values":[{}]},"mark":{"type":"text","text":"NORTH EASTERN","fontSize":14.5},"encoding":{"x":{"datum":1.53,"type":"quantitative"},"y":{"datum":10.2,"type":"quantitative"}}},
{"data":{"values":[{}]},"mark":{"type":"text","text":"(b)","fontSize":16},"encoding":{"x":{"datum":0.29,"type":"quantitative"},"y":{"datum":8.0,"type":"quantitative"}}},
{"data":{"values":[{}]},"mark":{"type":"text","text":["LOADING","POINT"],"lineHeight":19,"fontSize":14,"stroke":"white","strokeWidth":7,"fill":"white"},"encoding":{"x":{"datum":1.51,"type":"quantitative"},"y":{"datum":7.9,"type":"quantitative"}}},
{"data":{"values":[{}]},"mark":{"type":"text","text":["LOADING","POINT"],"lineHeight":19,"fontSize":14},"encoding":{"x":{"datum":1.51,"type":"quantitative"},"y":{"datum":7.9,"type":"quantitative"}}},
{"data":{"values":[{}]},"mark":{"type":"text","text":"RATIO :","fontSize":15,"align":"left"},"encoding":{"x":{"datum":-0.83,"type":"quantitative"},"y":{"datum":-3.12,"type":"quantitative"}}},
{"data":{"values":[{}]},"mark":{"type":"text","text":"T.P. COUNT\u00a0\u00a0 GREATER\u00a0\u00a0 THAN\u00a0\u00a0 I\u00a0\u00a0 MICRON\u00a0\u00a0 (WITH\u00a0\u00a0 SIZE\u00a0\u00a0 SELECTOR)","fontSize":15},"encoding":{"x":{"datum":3.7,"type":"quantitative"},"y":{"datum":-2.03,"type":"quantitative"}}},
{"data":{"values":[{}]},"mark":{"type":"rule","strokeWidth":1.5,"color":"black"},"encoding":{"x":{"datum":0.128,"type":"quantitative"},"x2":{"datum":7.28},"y":{"datum":-2.75,"type":"quantitative"}}},
{"data":{"values":[{}]},"mark":{"type":"text","text":"T.P. COUNT\u00a0\u00a0\u00a0 I\u00a0\u00a0\u00a0 TO\u00a0\u00a0\u00a0 5\u00a0\u00a0\u00a0 MICRONS\u00a0\u00a0\u00a0 (WITHOUT\u00a0\u00a0\u00a0 SIZE\u00a0\u00a0\u00a0 SELECTOR)","fontSize":15},"encoding":{"x":{"datum":3.7,"type":"quantitative"},"y":{"datum":-3.91,"type":"quantitative"}}}
]},
{"width":211,"height":138,"layer":[
{"data":{"name":"nw"},
"mark":{"type":"area","interpolate":"step-after","opacity":1,"stroke":"black","strokeWidth":2,"strokeJoin":"miter",
"fill":{"gradient":"linear","x1":0,"y1":0,"x2":1.1746,"y2":0.2881,"stops":[{"offset":0,"color":"#fff"},{"offset":0.01,"color":"#000"},{"offset":0.02,"color":"#fff"},{"offset":0.035,"color":"#fff"},{"offset":0.045,"color":"#000"},{"offset":0.055,"color":"#fff"},{"offset":0.07,"color":"#fff"},{"offset":0.08,"color":"#000"},{"offset":0.09,"color":"#fff"},{"offset":0.105,"color":"#fff"},{"offset":0.115,"color":"#000"},{"offset":0.125,"color":"#fff"},{"offset":0.14,"color":"#fff"},{"offset":0.15,"color":"#000"},{"offset":0.16,"color":"#fff"},{"offset":0.175,"color":"#fff"},{"offset":0.185,"color":"#000"},{"offset":0.195,"color":"#fff"},{"offset":0.21,"color":"#fff"},{"offset":0.22,"color":"#000"},{"offset":0.23,"color":"#fff"},{"offset":0.245,"color":"#fff"},{"offset":0.255,"color":"#000"},{"offset":0.265,"color":"#fff"},{"offset":0.28,"color":"#fff"},{"offset":0.29,"color":"#000"},{"offset":0.3,"color":"#fff"},{"offset":0.315,"color":"#fff"},{"offset":0.325,"color":"#000"},{"offset":0.335,"color":"#fff"},{"offset":0.35,"color":"#fff"},{"offset":0.36,"color":"#000"},{"offset":0.37,"color":"#fff"},{"offset":0.385,"color":"#fff"},{"offset":0.395,"color":"#000"},{"offset":0.405,"color":"#fff"},{"offset":0.42,"color":"#fff"},{"offset":0.43,"color":"#000"},{"offset":0.44,"color":"#fff"},{"offset":0.455,"color":"#fff"},{"offset":0.465,"color":"#000"},{"offset":0.475,"color":"#fff"},{"offset":0.49,"color":"#fff"},{"offset":0.5,"color":"#000"},{"offset":0.51,"color":"#fff"},{"offset":0.525,"color":"#fff"},{"offset":0.535,"color":"#000"},{"offset":0.545,"color":"#fff"},{"offset":0.56,"color":"#fff"},{"offset":0.57,"color":"#000"},{"offset":0.58,"color":"#fff"},{"offset":0.595,"color":"#fff"},{"offset":0.605,"color":"#000"},{"offset":0.615,"color":"#fff"},{"offset":0.63,"color":"#fff"},{"offset":0.64,"color":"#000"},{"offset":0.65,"color":"#fff"},{"offset":0.665,"color":"#fff"},{"offset":0.675,"color":"#000"},{"offset":0.685,"color":"#fff"},{"offset":0.7,"color":"#fff"},{"offset":0.71,"color":"#000"},{"offset":0.72,"color":"#fff"},{"offset":0.735,"color":"#fff"},{"offset":0.745,"color":"#000"},{"offset":0.755,"color":"#fff"},{"offset":0.77,"color":"#fff"},{"offset":0.78,"color":"#000"},{"offset":0.79,"color":"#fff"},{"offset":0.805,"color":"#fff"},{"offset":0.815,"color":"#000"},{"offset":0.825,"color":"#fff"},{"offset":0.84,"color":"#fff"},{"offset":0.85,"color":"#000"},{"offset":0.86,"color":"#fff"},{"offset":0.875,"color":"#fff"},{"offset":0.885,"color":"#000"},{"offset":0.895,"color":"#fff"},{"offset":0.91,"color":"#fff"},{"offset":0.92,"color":"#000"},{"offset":0.93,"color":"#fff"},{"offset":0.945,"color":"#fff"},{"offset":0.955,"color":"#000"},{"offset":0.965,"color":"#fff"},{"offset":0.98,"color":"#fff"},{"offset":0.99,"color":"#000"},{"offset":1,"color":"#fff"}]}},
"encoding":{
"x":{"field":"ratio_from","type":"quantitative","scale":{"domain":[0,3],"nice":false},"axis":{"values":[0,1,2,3],"labelPadding":5,"labelExpr":"datum.value == 0 ? '0' : replace(format(datum.value, '.1f'), '.', '·')","title":null}},
"y":{"field":"observations","type":"quantitative","stack":null,"scale":{"domain":[0,10],"nice":false},"axis":{"values":[0,5,10],"labels":false,"title":null}}
}},
{"data":{"values":[{}]},"mark":{"type":"rect","fill":"white","stroke":"black","strokeWidth":2.5,"cornerRadius":7},"encoding":{"x":{"datum":0.33,"type":"quantitative"},"x2":{"datum":2.72},"y":{"datum":11.23,"type":"quantitative"},"y2":{"datum":9.2}}},
{"data":{"values":[{}]},"mark":{"type":"text","text":"NORTH WESTERN","fontSize":14.5},"encoding":{"x":{"datum":1.52,"type":"quantitative"},"y":{"datum":10.2,"type":"quantitative"}}},
{"data":{"values":[{}]},"mark":{"type":"text","text":["DRILLING IN","HARD HEADING"],"lineHeight":22,"fontSize":14,"stroke":"white","strokeWidth":7,"fill":"white"},"encoding":{"x":{"datum":1.5,"type":"quantitative"},"y":{"datum":7.97,"type":"quantitative"}}},
{"data":{"values":[{}]},"mark":{"type":"text","text":["DRILLING IN","HARD HEADING"],"lineHeight":22,"fontSize":14},"encoding":{"x":{"datum":1.5,"type":"quantitative"},"y":{"datum":7.97,"type":"quantitative"}}}
]}
]
}
